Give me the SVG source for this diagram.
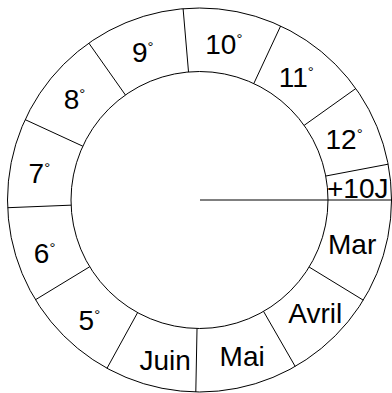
<svg xmlns="http://www.w3.org/2000/svg" width="392" height="393" viewBox="0 0 392 393">
<style>
.ln{stroke:#000;stroke-width:1;fill:none}
.t{font-family:"Liberation Sans",Arial,Helvetica,sans-serif;font-size:28px;fill:#000}
.d{font-size:15px}
</style>
<rect width="392" height="393" fill="#fff"/>
<g id="ring">
<circle class="ln" cx="199.5" cy="200" r="192"/>
<circle class="ln" cx="199.5" cy="200" r="128.5"/>
</g>
<g id="connectors">
<line class="ln" x1="200" y1="200" x2="391.5" y2="200"/>
<line class="ln" x1="325.75" y1="176.03" x2="388.13" y2="164.19"/>
<line class="ln" x1="304.11" y1="125.38" x2="355.81" y2="88.51"/>
<line class="ln" x1="253.81" y1="83.54" x2="280.64" y2="25.99"/>
<line class="ln" x1="188.52" y1="71.97" x2="183.10" y2="8.70"/>
<line class="ln" x1="125.43" y1="95.0" x2="88.83" y2="43.11"/>
<line class="ln" x1="82.80" y1="146.20" x2="25.14" y2="119.62"/>
<line class="ln" x1="71.10" y1="205.16" x2="7.66" y2="207.71"/>
<line class="ln" x1="89.70" y1="266.76" x2="35.44" y2="299.75"/>
<line class="ln" x1="137.60" y1="312.61" x2="107.0" y2="368.25"/>
<line class="ln" x1="197.03" y1="328.48" x2="195.81" y2="391.97"/>
<line class="ln" x1="263.56" y1="311.40" x2="295.21" y2="366.44"/>
<line class="ln" x1="309.12" y1="267.04" x2="363.29" y2="300.18"/>
</g>
<g id="s9"><text class="t" x="132" y="61.7">9<tspan class="d" dy="-10">°</tspan></text></g>
<g id="s10"><text class="t" x="205.3" y="54.3">10<tspan class="d" dy="-10">°</tspan></text></g>
<g id="s11"><text class="t" x="278.7" y="87.3">11<tspan class="d" dy="-10">°</tspan></text></g>
<g id="s12"><text class="t" x="325.5" y="149">12<tspan class="d" dy="-10">°</tspan></text></g>
<g id="s10j"><text class="t" x="327" y="198">+10J</text></g>
<g id="s8"><text class="t" x="63.7" y="109.3">8<tspan class="d" dy="-10">°</tspan></text></g>
<g id="s7"><text class="t" x="28.6" y="183.3">7<tspan class="d" dy="-10">°</tspan></text></g>
<g id="s6"><text class="t" x="33.8" y="263">6<tspan class="d" dy="-10">°</tspan></text></g>
<g id="s5"><text class="t" x="78.6" y="330.3">5<tspan class="d" dy="-10">°</tspan></text></g>
<g id="juin"><text class="t" x="139.5" y="369.7">Juin</text></g>
<g id="mai"><text class="t" x="219.6" y="366.3">Mai</text></g>
<g id="avril"><text class="t" x="288.3" y="323">Avril</text></g>
<g id="mar"><text class="t" x="328" y="253.7">Mar</text></g>
</svg>
